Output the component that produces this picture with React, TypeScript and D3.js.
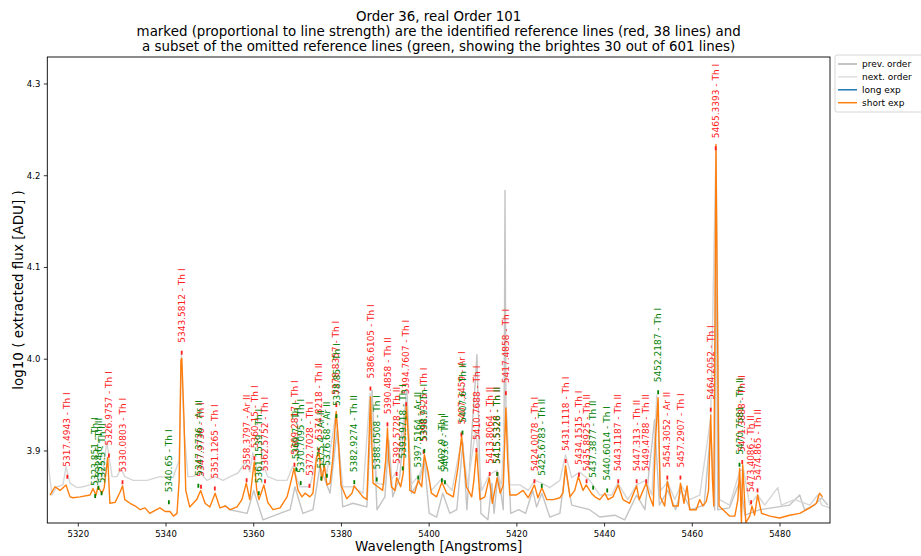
import React from "react";
import * as d3 from "d3";

const W = 921, H = 556;
const M = { left: 47.3, right: 830, top: 57, bottom: 523 };

const titleLines = [
  "Order 36, real Order 101",
  "marked (proportional to line strength) are the identified reference lines (red, 38 lines) and",
  "a subset of the omitted reference lines (green, showing the brightes 30 out of 601 lines)",
];
const xTicks = [5320, 5340, 5360, 5380, 5400, 5420, 5440, 5460, 5480];
const yTicks = [3.9, 4.0, 4.1, 4.2, 4.3];
const xDomain = [5312.93, 5491.4];
const yDomain = [3.8215, 4.3294];

// short exposure spectrum [wavelength, log10 flux]
const shortExp: [number, number][] = [
  [5313.55,3.852],[5314.69,3.861],[5315.83,3.857],[5317.2,3.863],[5318.11,3.85],[5318.79,3.849],[5320.39,3.85],
  [5322.67,3.852],[5323.35,3.859],[5324.03,3.852],[5324.5,3.861],[5325.4,3.854],[5325.9,3.86],[5326.7,3.893],
  [5327.2,3.843],[5328.4,3.844],[5329.5,3.855],[5330.1,3.862],[5330.6,3.847],[5331.8,3.843],[5333.0,3.840],[5334.1,3.836],
  [5335.2,3.838],[5336.3,3.832],[5337.4,3.835],[5338.6,3.838],[5339.8,3.834],[5340.9,3.834],[5341.7,3.829],[5342.5,3.832],[5343.0,3.868],[5343.4,3.999],
  [5343.6,4.001],[5344.1,3.934],[5344.5,3.857],[5345.4,3.839],[5347.0,3.847],[5347.9,3.857],[5348.9,3.843],
  [5350.0,3.839],[5351.2,3.854],[5352.3,3.838],[5353.5,3.840],[5354.6,3.836],[5356.2,3.839],[5357.3,3.847],[5358.3,3.865],
  [5359.1,3.847],[5360.1,3.888],[5360.7,3.857],[5361.2,3.847],[5362.3,3.863],[5363.2,3.844],[5364.4,3.836],
  [5366.0,3.838],[5367.6,3.85],[5368.3,3.863],[5369.2,3.881],[5370.1,3.857],[5371.0,3.85],[5371.7,3.854],
  [5372.8,3.85],[5373.5,3.854],[5374.3,3.893],[5374.9,3.898],[5375.5,3.868],[5376.1,3.884],[5376.7,3.863],
  [5377.4,3.865],[5378.0,3.89],[5378.8,3.943],[5379.3,3.912],[5379.9,3.863],[5381.2,3.848],[5382.4,3.854],
  [5382.9,3.862],[5383.7,3.857],[5384.9,3.85],[5385.8,3.847],[5386.3,3.912],[5386.6,3.959],[5386.9,3.912],
  [5387.2,3.865],[5388.3,3.861],[5389.4,3.857],[5390.1,3.89],[5390.5,3.925],[5390.8,3.89],[5391.4,3.861],
  [5392.2,3.857],[5392.6,3.871],[5393.5,3.861],[5394.1,3.876],[5394.8,3.95],[5395.3,3.912],[5395.6,3.857],
  [5396.7,3.854],[5397.5,3.868],[5398.3,3.861],[5398.9,3.896],[5399.8,3.876],[5400.5,3.854],[5401.7,3.85],
  [5402.9,3.866],[5404.0,3.854],[5405.5,3.85],[5406.6,3.883],[5407.4,3.916],[5407.9,3.89],[5408.5,3.861],
  [5409.7,3.85],[5410.2,3.868],[5410.8,3.901],[5411.3,3.868],[5411.6,3.847],[5412.7,3.85],[5413.7,3.871],
  [5414.4,3.843],[5415.5,3.871],[5416.2,3.854],[5416.9,3.863],[5417.5,3.947],[5417.9,3.89],[5418.4,3.852],
  [5419.9,3.852],[5421.4,3.857],[5422.6,3.849],[5424.0,3.863],[5424.8,3.849],[5425.7,3.86],[5426.8,3.847],
  [5428.3,3.847],[5429.8,3.849],[5430.5,3.854],[5431.1,3.884],[5432.1,3.85],[5433.2,3.857],[5434.0,3.872],
  [5435.1,3.857],[5435.8,3.863],[5437.0,3.854],[5437.8,3.85],[5438.9,3.847],[5440.1,3.854],[5440.8,3.847],
  [5441.9,3.85],[5443.1,3.863],[5444.2,3.847],[5445.7,3.843],[5447.3,3.862],[5447.9,3.847],[5449.5,3.865],
  [5450.3,3.85],[5451.1,3.84],[5451.6,3.912],[5452.2,3.958],[5452.7,3.85],[5453.7,3.84],[5454.3,3.867],
  [5455.6,3.84],[5456.8,3.84],[5457.3,3.865],[5458.1,3.843],[5458.8,3.862],[5459.4,3.836],[5460.9,3.836],
  [5461.7,3.847],[5462.4,3.84],[5463.2,3.845],[5463.7,3.857],[5464.2,3.939],[5464.6,3.868],[5464.9,3.84],
  [5465.2,4.065],[5465.4,4.234],[5465.7,4.065],[5466.1,3.84],[5467.0,3.836],[5468.5,3.829],[5469.7,3.829],
  [5470.4,3.847],[5470.8,3.881],[5471.2,3.822],[5471.5,3.885],[5472.2,3.822],[5473.1,3.829],[5473.6,3.84],
  [5474.2,3.83],[5474.9,3.852],[5475.8,3.832],[5477.7,3.829],[5479.9,3.827],[5482.2,3.83],[5484.5,3.832],
  [5486.8,3.838],[5488.3,3.843],[5489.0,3.854],[5489.7,3.85],
];

// next order spectrum
const nextOrder: [number, number][] = [
  [5312.9,3.909],[5313.3,3.879],[5314.0,3.852],[5315.1,3.861],[5316.5,3.863],[5317.2,3.883],[5318.1,3.865],
  [5319.7,3.86],[5321.1,3.861],[5322.7,3.863],[5324.3,3.868],[5325.4,3.871],[5326.5,3.91],[5327.7,3.872],
  [5328.8,3.872],[5329.7,3.881],[5330.6,3.872],[5332.5,3.868],[5335.7,3.868],[5338.6,3.872],[5341.6,3.871],
  [5343.0,3.89],[5343.5,4.005],[5344.1,3.923],[5345.0,3.872],[5346.1,3.872],[5347.7,3.877],[5349.3,3.868],
  [5351.2,3.872],[5353.0,3.868],[5354.6,3.872],[5356.4,3.876],[5358.2,3.888],[5359.1,3.877],[5359.8,3.898],
  [5360.9,3.877],[5362.3,3.883],[5363.2,3.872],[5365.3,3.868],[5367.6,3.868],[5368.9,3.883],[5370.5,3.861],
  [5372.8,3.861],[5374.6,3.898],[5376.7,3.876],[5378.7,3.941],[5380.3,3.861],[5382.6,3.861],[5384.9,3.854],
  [5386.5,3.963],[5388.1,3.865],[5389.7,3.863],[5390.4,3.907],[5391.3,3.868],[5392.7,3.879],[5394.8,3.961],
  [5395.8,3.863],[5397.8,3.874],[5398.9,3.89],[5400.5,3.857],[5402.9,3.87],[5405.2,3.857],[5407.4,3.912],
  [5408.8,3.863],[5410.6,3.923],[5412.0,3.857],[5413.7,3.874],[5415.4,3.879],[5416.5,3.863],[5417.5,3.956],
  [5418.4,3.863],[5420.7,3.863],[5422.6,3.857],[5424.1,3.868],[5425.7,3.865],[5427.5,3.86],[5429.8,3.868],
  [5431.1,3.896],[5432.5,3.871],[5434.3,3.877],[5436.6,3.868],[5438.9,3.852],[5441.6,3.852],[5443.0,3.865],
  [5445.3,3.847],[5447.3,3.863],[5449.4,3.868],[5450.8,3.852],[5451.9,3.961],[5452.8,3.857],[5454.4,3.866],
  [5456.0,3.847],[5457.4,3.863],[5459.4,3.847],[5461.7,3.852],[5464.2,3.936],[5465.4,4.228],[5466.2,3.847],
  [5468.5,3.841],[5470.9,3.879],[5471.7,3.879],[5473.1,3.841],[5474.9,3.852],[5476.5,3.841],[5479.5,3.86],
  [5480.3,3.841],[5483.3,3.847],[5484.5,3.845],[5486.8,3.841],[5488.6,3.852],[5489.5,3.841],[5491.4,3.838],
];

// previous order spectrum
const prevOrder: [number, number][] = [
  [5353.4,3.841],[5354.6,3.836],[5358.5,3.832],[5360.0,3.857],[5362.1,3.825],[5366.0,3.832],[5368.3,3.836],
  [5369.4,3.861],[5371.2,3.832],[5373.5,3.836],[5375.1,3.883],[5377.4,3.854],[5379.0,3.923],[5380.3,3.839],
  [5382.6,3.843],[5385.8,3.839],[5387.0,3.966],[5388.1,3.836],[5389.9,3.85],[5390.8,3.912],[5391.7,3.85],
  [5393.3,3.872],[5394.9,3.966],[5396.0,3.854],[5397.8,3.868],[5398.9,3.89],[5400.0,3.832],[5401.7,3.828],
  [5403.1,3.854],[5404.7,3.832],[5406.3,3.836],[5407.7,3.909],[5408.6,3.836],[5410.9,4.005],[5411.8,3.832],
  [5413.4,3.825],[5414.3,3.865],[5414.8,3.832],[5415.7,3.876],[5416.9,3.836],[5417.1,3.95],[5417.3,4.184],
  [5417.5,3.95],[5418.6,3.832],[5420.4,3.836],[5422.0,3.832],[5423.6,3.857],[5424.5,3.839],[5425.7,3.854],
  [5427.5,3.828],[5429.8,3.832],[5431.1,3.88],[5432.5,3.841],[5436.6,3.836],[5438.9,3.828],[5442.3,3.83],
  [5444.6,3.825],[5447.3,3.852],[5449.2,3.836],[5451.4,3.934],[5452.5,3.841],[5454.4,3.857],[5456.2,3.836],
  [5457.4,3.857],[5459.7,3.836],[5462.7,3.841],[5464.2,3.923],[5465.1,3.836],[5465.4,4.217],[5465.8,3.836],
  [5468.5,3.838],[5470.9,3.868],[5472.0,3.83],[5475.4,3.836],[5482.2,3.841],[5484.5,3.852],[5485.6,3.836],
  [5487.9,3.841],[5489.5,3.849],[5490.9,3.841],
];

// identified reference lines (red): wavelength, label, marker level
const redWl = [5317.4943,5326.9757,5330.0803,5343.5812,5347.9736,5351.1265,5358.3797,5360.15,5362.5752,5369.2817,
  5372.7028,5374.8218,5378.8357,5386.6105,5390.4858,5392.5728,5394.7607,5398.7325,5407.3459,5410.7688,
  5413.8064,5415.5328,5417.4858,5424.0078,5431.1118,5434.1515,5435.8925,5443.1187,5447.313,5449.4788,
  5454.3052,5457.2907,5464.2052,5465.3393,5471.3888,5473.4086,5474.865];
const redName = ["Th I","Th I","Th I","Th I","Th I","Th I","Ar II","Th I","Th I","Th I",
  "Th I","Th II","Th I","Th I","Th II","Th II","Th I","Th I","Ar I","Th I",
  "Th II","Th II","Th I","Th I","Th I","Th I","Th II","Th II","Th II","Th II",
  "Ar II","Th I","Th I","Th I","Th II","Th II","Th II"];
const redLevel = [3.872,3.895,3.866,4.007,3.861,3.859,3.868,3.892,3.867,3.885,
  3.862,3.901,3.95,3.968,3.929,3.875,3.951,3.899,3.918,3.901,
  3.875,3.875,3.963,3.867,3.889,3.874,3.867,3.867,3.867,3.867,
  3.871,3.871,3.945,4.23,3.888,3.844,3.857];

// omitted reference lines (green)
const greenWl = [5323.851,5324.6,5325.3,5340.65,5347.3736,5361.1539,5369.7,5370.7095,5375.4,5376.68,
  5378.85,5382.9274,5388.0508,5393.9718,5397.5164,5398.9,5402.9,5403.6,5407.6,5415.5326,
  5425.6783,5437.3877,5440.6014,5452.2187,5470.7581];
const greenName = ["Th I","Th II","Th II","Th I","Ar II","Th I","Th I","Th I","Ar II","Ar II",
  "Th I","Th II","Th I","Th I","Ar II","Th I","Th I","Th I","Th II","Th II",
  "Th II","Th II","Th I","Th I","Th II"];
const greenLevel = [3.851,3.86,3.854,3.844,3.862,3.854,3.88,3.865,3.87,3.873,
  3.938,3.866,3.869,3.881,3.871,3.9,3.868,3.866,3.92,3.875,
  3.862,3.86,3.857,3.964,3.885];

const legendItems = [
  { label: "prev. order", color: "#c4c4c4", width: 2 },
  { label: "next. order", color: "#d6d6d6", width: 1.2 },
  { label: "long exp", color: "#1f77b4", width: 1.5 },
  { label: "short exp", color: "#ff7f0e", width: 1.5 },
];

const FONT = "DejaVu Sans, sans-serif";

export default function App() {
  const x = d3.scaleLinear().domain(xDomain).range([M.left, M.right]);
  const y = d3.scaleLinear().domain(yDomain).range([M.bottom, M.top]);
  const line = d3.line<[number, number]>().x(d => x(d[0])).y(d => y(d[1]));

  const fmt = (w: number) => String(w);
  const reds = redWl.map((w, i) => ({ w, text: `${fmt(w)} - ${redName[i]}`, lv: redLevel[i], color: "#ff2020" }));
  const greens = greenWl.map((w, i) => ({ w, text: `${fmt(w)} - ${greenName[i]}`, lv: greenLevel[i], color: "#008000" }));
  const marks = [...reds, ...greens];

  return (
    <svg width={W} height={H} style={{ position: "absolute", left: 0, top: 0, background: "#fff" }} fontFamily={FONT}>
      <defs>
        <clipPath id="plotclip">
          <rect x={M.left} y={M.top} width={M.right - M.left} height={M.bottom - M.top} />
        </clipPath>
      </defs>
      {titleLines.map((t, i) => (
        <text key={i} x={(M.left + M.right) / 2} y={21 + i * 15} textAnchor="middle" fontSize={13.4} fill="#000">{t}</text>
      ))}
      <g clipPath="url(#plotclip)">
        <path d={line(prevOrder) || ""} fill="none" stroke="#c4c4c4" strokeWidth={1.4} strokeLinejoin="round" />
        <path d={line(nextOrder) || ""} fill="none" stroke="#d6d6d6" strokeWidth={1.4} strokeLinejoin="round" />
        <path d={line(shortExp) || ""} fill="none" stroke="#ff7f0e" strokeWidth={1.4} strokeLinejoin="round" />
        {marks.map((m, i) => (
          <g key={i}>
            <line x1={x(m.w)} x2={x(m.w)} y1={y(m.lv) - 2} y2={y(m.lv) + 2} stroke={m.color} strokeWidth={1.8} />
            <text transform={`translate(${x(m.w)},${y(m.lv) - 10}) rotate(-90)`} dy="0.35em" fontSize={9} fill={m.color}>{m.text}</text>
          </g>
        ))}
      </g>
      <rect x={M.left} y={M.top} width={M.right - M.left} height={M.bottom - M.top} fill="none" stroke="#000" strokeWidth={0.9} />
      {xTicks.map(t => (
        <g key={t}>
          <line x1={x(t)} x2={x(t)} y1={M.bottom} y2={M.bottom + 3.5} stroke="#000" strokeWidth={0.8} />
          <text x={x(t)} y={M.bottom + 14} textAnchor="middle" fontSize={8.5} fill="#000">{t}</text>
        </g>
      ))}
      {yTicks.map(t => (
        <g key={t}>
          <line x1={M.left - 3.5} x2={M.left} y1={y(t)} y2={y(t)} stroke="#000" strokeWidth={0.8} />
          <text x={M.left - 7} y={y(t)} dy="0.35em" textAnchor="end" fontSize={8.5} fill="#000">{t.toFixed(1)}</text>
        </g>
      ))}
      <text x={(M.left + M.right) / 2} y={551} textAnchor="middle" fontSize={13.5} fill="#000">Wavelength [Angstroms]</text>
      <text transform={`translate(23,${(M.top + M.bottom) / 2}) rotate(-90)`} textAnchor="middle" fontSize={13.5} fill="#000">log10 ( extracted flux [ADU] )</text>
      <g>
        <rect x={835} y={55} width={90} height={57} rx={2} fill="#fff" stroke="#ccc" strokeWidth={0.8} />
        {legendItems.map((it, i) => (
          <g key={i}>
            <line x1={838} x2={857} y1={64 + i * 12.9} y2={64 + i * 12.9} stroke={it.color} strokeWidth={it.width} />
            <text x={862} y={64 + i * 12.9} dy="0.35em" fontSize={9} fill="#000">{it.label}</text>
          </g>
        ))}
      </g>
    </svg>
  );
}
